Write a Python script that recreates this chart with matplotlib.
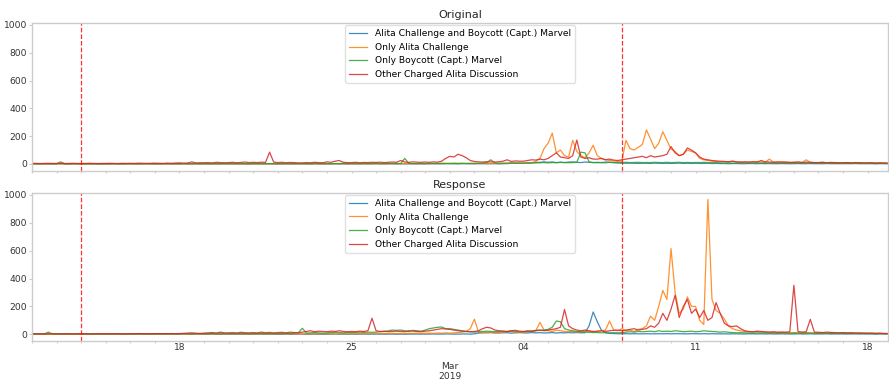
import numpy as np
import pandas as pd
import matplotlib
matplotlib.use("Agg")
import matplotlib.pyplot as plt
import matplotlib.dates as mdates

# ---------------- data (4-hourly, one row per day, Feb 12 .. Mar 18, 2019) ----------------
start = "2019-02-12 00:00"
labels = ["Alita Challenge and Boycott (Capt.) Marvel", "Only Alita Challenge",
          "Only Boycott (Capt.) Marvel", "Other Charged Alita Discussion"]
colors = ["#1f77b4", "#ff7f0e", "#2ca02c", "#d62728"]
event_dates = ["2019-02-14", "2019-03-08"]
week_ticks = ["2019-02-18", "2019-02-25", "2019-03-04", "2019-03-11", "2019-03-18"]
week_labels = ["18", "25", "04", "11", "18"]
month_tick = "2019-03-01"
month_label = "\n\nMar\n2019"

orig_both = [
    [0,0,1,0,0,0],[0,1,0,0,0,1],[0,0,0,1,0,0],[0,0,1,0,0,0],[1,0,0,0,1,0],
    [0,0,1,0,0,0],[0,1,0,0,1,0],[0,0,1,0,0,1],[1,0,0,1,0,0],[0,1,0,0,1,0],
    [0,0,1,0,0,1],[1,0,0,1,0,0],[0,1,1,0,1,0],[1,0,1,1,0,1],[1,1,0,1,1,0],
    [1,0,1,1,1,1],[1,1,2,1,1,2],[2,1,1,2,2,1],[1,2,2,1,2,2],[1,2,3,5,5,6],
    [5,6,8,10,12,15],[12,15,10,12,10,14],[15,12,10,14,12,10],[12,10,14,12,10,8],
    [6,5,6,5,4,5],[5,4,6,5,4,5],[4,5,6,4,5,4],[5,4,4,5,3,4],[3,3,2,3,3,2],
    [2,3,3,2,3,2],[3,2,2,3,2,2],[2,3,2,2,3,2],[2,2,3,2,2,2],[2,2,2,3,2,2],[2,2,1,2,2,1],
]
orig_alita = [
    [0,0,1,0,0,1],[0,1,0,0,1,0],[1,0,0,1,0,0],[0,1,1,0,0,1],[0,0,1,1,0,0],
    [1,0,0,1,1,0],[0,1,1,2,1,0],[1,1,0,1,2,1],[1,2,1,1,0,1],[2,1,1,2,1,1],
    [1,1,2,1,1,2],[1,2,1,2,1,1],[2,1,2,2,1,2],[2,2,1,3,2,2],[3,2,2,3,2,3],
    [2,3,3,2,4,3],[3,3,4,3,3,4],[3,4,3,4,3,3],[4,3,4,4,3,4],[3,4,5,6,8,6],
    [5,6,10,18,40,110],[150,222,80,100,60,50],[170,90,60,45,80,135],[60,40,30,25,22,18],
    [20,170,110,100,120,140],[245,180,110,150,232,170],[107,90,60,70,100,90],[80,40,30,25,20,18],
    [15,18,14,20,16,12],[14,12,15,18,14,12],[35,14,12,16,12,10],[12,14,10,30,12,10],
    [10,12,8,10,9,8],[8,10,7,9,8,6],[6,7,5,6,5,5],
]
orig_boycott = [
    [2,2,1,2,2,1],[2,15,2,1,2,2],[1,2,2,1,2,1],[2,1,2,2,1,2],[2,2,1,2,3,2],
    [1,2,2,3,2,2],[2,3,2,2,3,2],[3,2,2,3,2,3],[2,3,3,2,3,2],[3,2,3,3,2,3],
    [2,3,2,3,3,2],[3,3,2,4,3,3],[3,2,3,3,4,3],[3,4,3,3,4,3],[4,3,4,3,4,4],
    [3,40,4,3,2,3],[3,4,3,4,5,4],[4,5,4,5,4,5],[4,5,6,10,30,8],[5,6,5,7,6,5],
    [6,8,7,9,8,10],[8,10,9,12,10,9],[10,12,85,80,15,10],[9,10,8,12,10,9],
    [10,12,10,11,12,10],[11,10,12,11,10,12],[10,11,12,10,11,10],[11,10,12,10,9,10],
    [8,7,8,6,7,8],[7,6,7,8,6,7],[6,7,6,7,6,6],[7,6,6,7,6,5],[6,5,6,6,5,6],[5,6,5,5,6,5],[5,5,4,5,5,4],
]
orig_other = [
    [5,4,3,4,5,4],[4,5,3,4,5,4],[3,4,5,4,3,4],[4,5,4,3,5,4],[5,4,6,5,4,5],
    [6,5,4,6,5,7],[8,6,7,15,8,9],[9,10,8,12,10,9],[10,12,9,11,14,10],[12,10,13,11,85,14],
    [10,12,9,11,10,8],[8,10,9,12,10,9],[15,12,20,25,12,10],[10,12,9,11,10,12],[11,13,10,12,14,12],
    [25,14,12,15,13,12],[14,12,15,13,20,40],[55,50,70,60,45,25],[18,15,14,16,15,14],[16,20,30,18,22,20],
    [20,25,30,28,35,30],[40,60,80,50,45,40],[60,172,50,40,45,35],[35,40,30,35,28,25],
    [30,35,40,45,50,55],[45,60,50,55,60,70],[125,80,60,70,115,100],[80,50,35,30,25,22],
    [20,18,16,20,15,14],[15,14,16,13,25,15],[14,12,15,13,14,12],[12,14,11,13,12,10],
    [10,12,9,11,10,9],[9,10,8,10,9,8],[8,9,7,8,7,6],
]

resp_both = [
    [0,0,1,0,0,0],[0,1,0,0,0,1],[0,0,0,1,0,0],[0,0,1,0,0,0],[1,0,0,0,1,0],
    [0,0,1,0,0,0],[0,1,0,0,1,0],[0,0,1,0,0,1],[1,0,0,1,0,0],[0,1,0,0,1,0],
    [0,0,1,0,0,1],[1,0,0,1,0,0],[0,1,1,0,1,0],[1,0,1,1,0,1],[1,1,0,1,1,0],
    [1,0,1,1,1,1],[1,1,2,1,1,2],[2,1,1,2,2,1],[3,8,10,10,12,10],[9,10,11,8,10,12],
    [10,9,12,10,11,9],[10,12,9,11,10,12],[10,12,10,11,60,160],[90,30,10,6,5,4],
    [3,4,3,4,3,3],[4,3,3,4,3,4],[3,4,4,3,3,4],[4,3,4,3,4,3],[3,3,2,3,3,2],
    [2,3,3,2,3,2],[3,2,2,3,2,2],[2,3,2,2,3,2],[2,2,3,2,2,2],[2,2,2,3,2,2],[2,2,1,2,2,1],
]
resp_alita = [
    [1,2,1,2,1,1],[2,1,2,1,2,1],[1,2,1,1,2,2],[2,1,1,2,1,2],[1,2,2,1,2,1],
    [2,1,2,2,1,2],[2,2,1,3,2,1],[2,3,2,2,1,2],[3,2,2,3,2,2],[2,3,2,2,3,2],
    [3,2,3,2,2,3],[2,3,3,2,3,3],[3,3,2,3,3,2],[3,4,5,3,4,5],[4,5,6,5,6,5],
    [6,5,7,6,8,6],[7,8,6,9,8,10],[8,10,12,15,20,40],[108,15,12,14,12,10],[12,15,18,20,14,12],
    [15,18,20,25,85,30],[25,20,30,25,20,18],[20,15,18,22,20,18],[20,25,30,95,30,25],
    [40,25,30,20,35,40],[60,130,100,200,315,250],[615,300,150,180,268,200],[200,100,70,968,250,170],
    [150,110,60,40,30,25],[20,18,15,20,16,14],[15,12,14,13,12,10],[12,10,14,12,10,9],
    [10,9,8,10,9,8],[8,9,7,8,6,7],[6,5,6,5,4,5],
]
resp_boycott = [
    [2,3,2,3,15,2],[3,2,3,4,2,3],[3,4,3,2,3,4],[4,3,3,4,3,3],[3,4,4,3,4,3],
    [4,3,4,5,3,4],[4,5,4,3,5,4],[5,4,5,4,4,5],[4,5,5,4,5,4],[5,4,6,5,4,5],
    [4,5,6,5,8,10],[43,8,10,12,10,8],[10,12,14,12,10,12],[12,14,15,13,15,14],[15,18,20,25,30,28],
    [30,25,20,28,25,22],[30,40,45,50,52,40],[40,35,30,25,20,18],[15,18,20,22,20,18],[20,22,18,25,20,18],
    [18,20,22,25,28,30],[35,50,95,90,40,30],[25,20,18,15,14,12],[12,10,12,10,11,10],
    [12,15,18,15,20,18],[20,22,18,25,20,22],[20,25,22,18,20,22],[18,20,25,22,20,18],
    [15,18,14,12,10,12],[10,9,8,10,9,8],[8,9,7,8,8,7],[7,8,6,7,8,6],[6,7,6,5,6,7],[6,5,6,5,5,6],[5,5,4,5,4,5],
]
resp_other = [
    [3,4,3,2,3,4],[3,2,4,3,2,3],[4,3,2,3,4,3],[3,4,3,4,3,2],[4,3,5,4,3,4],
    [4,5,3,4,5,4],[5,6,8,10,7,6],[8,10,12,9,15,10],[10,12,9,14,11,10],[12,10,15,11,13,10],
    [12,14,10,15,12,11],[15,20,25,18,22,20],[18,22,20,25,20,18],[20,18,22,20,25,115],[25,20,22,18,20,22],
    [20,18,25,22,20,18],[22,25,30,35,40,38],[35,30,25,22,20,18],[20,25,40,50,45,30],[25,22,20,25,28,22],
    [20,25,22,28,30,25],[30,35,40,50,178,60],[40,30,25,30,25,20],[22,25,20,25,28,30],
    [25,30,35,40,30,35],[40,60,50,80,150,100],[180,280,120,200,250,150],[180,120,170,100,120,227],
    [150,80,60,55,60,40],[25,20,18,22,20,18],[15,18,14,16,15,18],[352,20,15,18,107,15],
    [14,12,15,13,12,10],[12,10,11,9,10,8],[8,9,7,8,6,5],
]

# ---------------- build frames ----------------
def flat(rows):
    return np.array(rows, dtype=float).ravel()

n = len(orig_both) * 6
idx = pd.date_range(start, periods=n, freq="4h")
orig = pd.DataFrame({labels[0]: flat(orig_both), labels[1]: flat(orig_alita),
                     labels[2]: flat(orig_boycott), labels[3]: flat(orig_other)}, index=idx)
resp = pd.DataFrame({labels[0]: flat(resp_both), labels[1]: flat(resp_alita),
                     labels[2]: flat(resp_boycott), labels[3]: flat(resp_other)}, index=idx)

plt.rcParams["font.family"] = ["DejaVu Sans"]
fig = plt.figure(figsize=(8.89, 3.83), dpi=100)
ax1 = fig.add_axes([0.036, 0.5543, 0.963, 0.3864])
ax2 = fig.add_axes([0.036, 0.1097, 0.963, 0.3872], sharex=ax1, sharey=ax1)

for ax, df, title in [(ax1, orig, "Original"), (ax2, resp, "Response")]:
    for lab, c in zip(labels, colors):
        ax.plot(df.index, df[lab], color=c, lw=0.9, alpha=0.85, label=lab)
    for d in event_dates:
        ax.axvline(pd.Timestamp(d), color="red", ls="--", lw=0.9, alpha=0.8)
    ax.set_title(title, fontsize=8, color="#262626", pad=3.3)
    leg = ax.legend(loc="upper center", fontsize=6.6, frameon=True,
                    edgecolor="#dddddd", framealpha=0.9, borderaxespad=0.3)
    for sp in ax.spines.values():
        sp.set_color("#cccccc")
        sp.set_linewidth(1.0)
    ax.tick_params(axis="both", which="both", colors="#cccccc", labelcolor="#333333",
                   labelsize=6.6, length=2, width=0.8, pad=1.5)
    ax.tick_params(axis="x", which="both", length=1.5, pad=0.3)
    ax.xaxis.set_minor_locator(mdates.DayLocator())

ax1.set_xlim(idx[0], idx[-1])
tick_pos = [pd.Timestamp(t) for t in week_ticks] + [pd.Timestamp(month_tick)]
tick_lab = week_labels + [month_label]
ax2.set_xticks(tick_pos)
ax2.set_xticklabels(tick_lab)
for t in ax2.get_xticklabels():
    t.set_linespacing(1.05)
ax1.tick_params(labelbottom=False)
ax1.set_yticks([0, 200, 400, 600, 800, 1000])

fig.savefig("out.png", dpi=100)
